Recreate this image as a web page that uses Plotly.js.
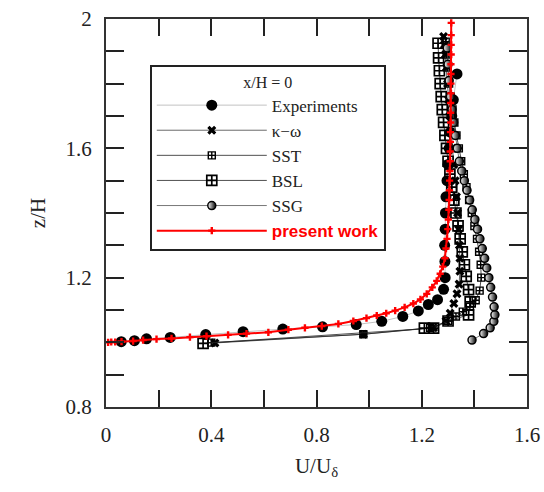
<!DOCTYPE html>
<html>
<head>
<meta charset="utf-8">
<script src="https://cdn.plot.ly/plotly-3.0.1.min.js"></script>
<style>html,body{margin:0;padding:0;background:#fff;}#chart{width:544px;height:492px;}</style>
</head>
<body>
<div id="chart"></div>
<script>
// Experiments
const expU = [0.058,0.108,0.154,0.244,0.379,0.521,0.672,0.823,0.951,1.048,1.128,1.187,1.225,1.260,1.283,1.289,1.288,1.287,1.289,1.290,1.292,1.296,1.300,1.304,1.309,1.314,1.320,1.334];
const expZ = [1.002,1.005,1.011,1.015,1.024,1.033,1.041,1.048,1.055,1.065,1.080,1.097,1.117,1.132,1.164,1.200,1.25,1.30,1.35,1.40,1.45,1.50,1.55,1.60,1.65,1.70,1.75,1.83];
// k-omega
const kwU = [0.414,0.978,1.245,1.292,1.308,1.322,1.334,1.342,1.345,1.345,1.343,1.340,1.336,1.332,1.327,1.322,1.317,1.312,1.307,1.302,1.298,1.294,1.290,1.286,1.283];
const kwZ = [0.998,1.025,1.045,1.066,1.09,1.12,1.15,1.18,1.22,1.26,1.30,1.35,1.40,1.45,1.50,1.55,1.60,1.65,1.70,1.75,1.80,1.85,1.89,1.92,1.946];
// SST
const sstU = [0.40,0.978,1.232,1.300,1.330,1.356,1.383,1.405,1.420,1.426,1.424,1.418,1.410,1.400,1.390,1.380,1.370,1.360,1.350,1.341,1.332,1.324,1.317,1.310,1.304,1.299,1.295,1.291];
const sstZ = [0.999,1.025,1.045,1.066,1.08,1.095,1.11,1.13,1.16,1.20,1.24,1.28,1.32,1.36,1.40,1.44,1.48,1.52,1.56,1.60,1.64,1.68,1.72,1.76,1.80,1.85,1.89,1.93];
// BSL
const bslU = [0.369,1.21,1.245,1.30,1.378,1.384,1.378,1.369,1.362,1.354,1.346,1.338,1.330,1.322,1.314,1.307,1.300,1.294,1.288,1.283,1.278,1.274,1.270,1.267,1.264,1.262];
const bslZ = [0.997,1.044,1.044,1.066,1.085,1.125,1.163,1.204,1.24,1.28,1.32,1.36,1.40,1.44,1.48,1.52,1.56,1.60,1.64,1.68,1.72,1.76,1.80,1.84,1.88,1.925];
// SSG
const ssgU = [1.391,1.435,1.460,1.474,1.478,1.475,1.469,1.462,1.455,1.447,1.439,1.430,1.421,1.412,1.402,1.392,1.382,1.372,1.362,1.352,1.343,1.335,1.328,1.321,1.315,1.309,1.304,1.300,1.297];
const ssgZ = [1.007,1.027,1.045,1.065,1.085,1.11,1.14,1.17,1.20,1.23,1.26,1.29,1.32,1.35,1.38,1.41,1.44,1.47,1.50,1.53,1.56,1.60,1.64,1.68,1.72,1.76,1.81,1.86,1.91];
// present work
const pwU = [0.008,0.02,0.035,0.059,0.103,0.141,0.192,0.249,0.319,0.382,0.464,0.534,0.617,0.693,0.756,0.820,0.883,0.940,0.990,1.029,1.065,1.099,1.135,1.168,1.195,1.219,1.240,1.257,1.270,1.280,1.288,1.292,1.296,1.299,1.301,1.303,1.304,1.305,1.306,1.307,1.308,1.308,1.309,1.309,1.310,1.310,1.310,1.311,1.311,1.311,1.311,1.312,1.312,1.312,1.312];
const pwZ = [1.000,1.001,1.001,1.002,1.004,1.007,1.010,1.012,1.016,1.019,1.023,1.027,1.031,1.039,1.045,1.050,1.057,1.066,1.075,1.083,1.090,1.098,1.108,1.120,1.133,1.150,1.170,1.190,1.212,1.234,1.260,1.290,1.320,1.350,1.380,1.410,1.440,1.470,1.500,1.530,1.560,1.590,1.620,1.650,1.680,1.710,1.740,1.770,1.800,1.830,1.860,1.890,1.920,1.950,1.988];

const xTicks = [0,0.4,0.8,1.2,1.6];
const xTickText = ['0','0.4','0.8','1.2','1.6'];
const yTicks = [0.8,1.2,1.6,2.0];
const yTickText = ['0.8','1.2','1.6','2'];

const serif = 'Liberation Serif, Times New Roman, serif';

const traces = [
  {x: expU, y: expZ, name: 'Experiments', mode: 'lines+markers',
   line: {color: '#999', width: 0.6},
   marker: {symbol: 'circle', size: 11, color: '#000'}},
  {x: kwU, y: kwZ, name: '\u03ba\u2212\u03c9', mode: 'lines+markers',
   line: {color: '#444', width: 0.8},
   marker: {symbol: 'x', size: 8, color: '#000'}},
  {x: sstU, y: sstZ, name: 'SST', mode: 'lines+markers',
   line: {color: '#222', width: 0.8},
   marker: {symbol: 'square-cross-open', size: 7, color: '#000', line: {width: 1.4, color: '#000'}}},
  {x: bslU, y: bslZ, name: 'BSL', mode: 'lines+markers',
   line: {color: '#222', width: 0.8},
   marker: {symbol: 'square-cross-open', size: 10, color: '#000', line: {width: 1.7, color: '#000'}}},
  {x: ssgU, y: ssgZ, name: 'SSG', mode: 'lines+markers',
   line: {color: '#555', width: 0.8},
   marker: {symbol: 'circle', size: 8, color: '#fff', gradient: {type: 'horizontal', color: '#000'}, line: {width: 1.5, color: '#000'}}},
  {x: pwU, y: pwZ, name: '<span style="color:#ff0000;font-family:Liberation Sans, Arial, sans-serif;font-weight:bold">present work</span>', mode: 'lines+markers',
   line: {color: '#ff0000', width: 2},
   marker: {symbol: 'cross', size: 6, color: '#ff0000'}}
];

const layout = {
  width: 544, height: 492,
  margin: {l: 106, r: 17, t: 19, b: 85},
  paper_bgcolor: '#fff', plot_bgcolor: '#fff',
  showlegend: true,
  font: {family: serif, color: '#222'},
  xaxis: {
    range: [0, 1.6], tickvals: xTicks, ticktext: xTickText,
    ticks: 'inside', ticklen: 17, tickwidth: 2, tickcolor: '#222',
    minor: {dtick: 0.2, tick0: 0, ticks: 'inside', ticklen: 17, tickwidth: 2, tickcolor: '#222', showgrid: false},
    showline: true, linecolor: '#333', linewidth: 2, mirror: 'ticks',
    showgrid: false, zeroline: false,
    tickfont: {family: serif, size: 21, color: '#222'},
    ticklabelstandoff: 8,
    title: {text: 'U/U<sub>\u03b4</sub>', font: {family: serif, size: 21, color: '#222'}, standoff: 12}
  },
  yaxis: {
    range: [0.8, 2.0], tickvals: yTicks, ticktext: yTickText,
    ticks: 'inside', ticklen: 18, tickwidth: 2, tickcolor: '#222',
    minor: {dtick: 0.1, tick0: 0.8, ticks: 'inside', ticklen: 18, tickwidth: 2, tickcolor: '#222', showgrid: false},
    showline: true, linecolor: '#333', linewidth: 2, mirror: 'ticks',
    showgrid: false, zeroline: false,
    tickfont: {family: serif, size: 21, color: '#222'},
    ticklabelstandoff: 8,
    title: {text: 'z/H', font: {family: serif, size: 21, color: '#222'}, standoff: 14}
  },
  legend: {
    x: 0.104, y: 0.882, xanchor: 'left', yanchor: 'top',
    bgcolor: '#fff', bordercolor: '#222', borderwidth: 2,
    font: {family: serif, size: 17, color: '#222'},
    title: {text: 'x/H = 0', side: 'top center', font: {family: serif, size: 16, color: '#222'}},
    itemwidth: 110, tracegroupgap: 0, traceorder: 'normal'
  }
};

Plotly.newPlot('chart', traces, layout, {displayModeBar: false, staticPlot: true});
</script>
</body>
</html>
